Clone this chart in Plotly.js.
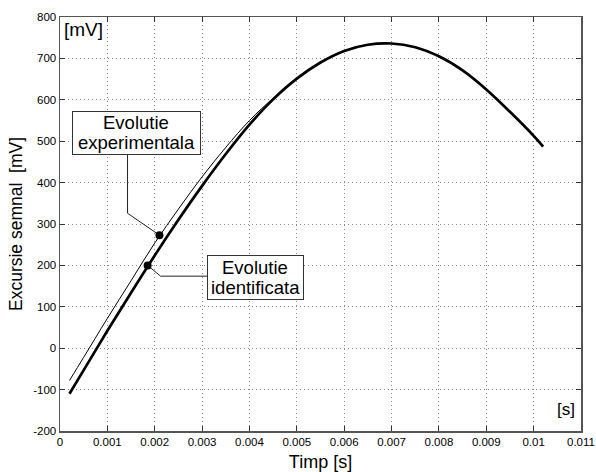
<!DOCTYPE html>
<html>
<head>
<meta charset="utf-8">
<script src="https://cdn.plot.ly/plotly-3.0.1.min.js"></script>
<style>html,body{margin:0;padding:0;background:#fff;}#chart{width:596px;height:472px;}</style>
</head>
<body>
<div id="chart"></div>
<script>
// Time axis (s)
const timp = [0.0002, 0.0005, 0.001, 0.0015, 0.002, 0.0025, 0.003, 0.0035, 0.004, 0.0045, 0.005, 0.0055, 0.006, 0.0065, 0.007, 0.0075, 0.008, 0.0085, 0.009, 0.0095, 0.01, 0.0102];
// Identified evolution (thick line), mV
const identificata = [-110, -53, 42, 134, 224, 310, 392, 469, 540, 601, 651, 690, 718, 733, 736, 727, 705, 671, 625, 571, 513, 487];
// Experimental evolution (thin line), mV
const experimentala = [-78, -22, 72, 163, 254, 336, 414, 485, 550, 604, 652, 690, 718, 733, 736, 727, 705, 671, 626, 572, 515, 490];

// Label anchor points and leader lines
const expMarker = {t: [0.0021], v: [273]};
const idMarker = {t: [0.00185], v: [200]};
const expLeaderT = [0.001426, 0.001426, 0.0021];
const expLeaderV = [468, 326, 273];
const idLeaderT = [0.00311, 0.002123, 0.00185];
const idLeaderV = [174, 174, 200];
const expLabel = ['Evolutie', 'experimentala'];
const idLabel = ['Evolutie', 'identificata'];
const expBox = {t: 0.001608, v: 520};
const idBox = {t: 0.004123, v: 170};

const xTicks = [0, 0.001, 0.002, 0.003, 0.004, 0.005, 0.006, 0.007, 0.008, 0.009, 0.01, 0.011];
const xTickText = ['0', '0.001', '0.002', '0.003', '0.004', '0.005', '0.006', '0.007', '0.008', '0.009', '0.01', '0.011'];
const yTicks = [-200, -100, 0, 100, 200, 300, 400, 500, 600, 700, 800];
const yTickText = ['-200', '-100', '0', '100', '200', '300', '400', '500', '600', '700', '800'];

const FONT = 'Liberation Sans, Arial, Helvetica, sans-serif';

const traces = [
  {x: timp, y: identificata, mode: 'lines', line: {color: '#000', width: 2.7, shape: 'spline', smoothing: 1}, hoverinfo: 'skip'},
  {x: timp, y: experimentala, mode: 'lines', line: {color: '#000', width: 1, shape: 'spline', smoothing: 1}, hoverinfo: 'skip'},
  {x: expLeaderT, y: expLeaderV, mode: 'lines', line: {color: '#222', width: 1}, hoverinfo: 'skip'},
  {x: idLeaderT, y: idLeaderV, mode: 'lines', line: {color: '#222', width: 1}, hoverinfo: 'skip'},
  {x: expMarker.t, y: expMarker.v, mode: 'markers', marker: {color: '#000', size: 8}, hoverinfo: 'skip'},
  {x: idMarker.t, y: idMarker.v, mode: 'markers', marker: {color: '#000', size: 8}, hoverinfo: 'skip'}
];

const axisCommon = {
  showline: true, linecolor: '#555', linewidth: 1.5, mirror: 'ticks',
  ticks: 'inside', ticklen: 5, tickcolor: '#333', tickwidth: 1,
  showgrid: true, gridcolor: '#888', griddash: '1px,3px', gridwidth: 1,
  zeroline: false, ticklabeloverflow: 'allow',
  tickfont: {family: FONT, size: 11.5, color: '#000'}
};

function boxAnn(pos, w, h) {
  return {xref: 'x', yref: 'y', x: pos.t, y: pos.v, text: ' ', showarrow: false,
    bgcolor: '#fff', bordercolor: '#333', borderwidth: 1, borderpad: 0, width: w, height: h,
    font: {family: FONT, size: 10}};
}
function lineAnn(pos, txt, dy) {
  return {xref: 'x', yref: 'y', x: pos.t, y: pos.v, yshift: dy, text: txt, showarrow: false,
    font: {family: FONT, size: 18.5, color: '#000'}, xanchor: 'center', yanchor: 'middle'};
}

const layout = {
  width: 596, height: 472,
  margin: {l: 60, r: 15, t: 17, b: 41},
  paper_bgcolor: '#fff', plot_bgcolor: '#fff',
  showlegend: false,
  font: {family: FONT, color: '#000'},
  xaxis: Object.assign({}, axisCommon, {
    range: [0, 0.011], tickvals: xTicks, ticktext: xTickText,
    title: {text: 'Timp [s]', font: {family: FONT, size: 18, color: '#000'}, standoff: 8}
  }),
  yaxis: Object.assign({}, axisCommon, {
    range: [-200, 800], tickvals: yTicks, ticktext: yTickText,
    title: {text: 'Excursie semnal\u00a0 [mV]', font: {family: FONT, size: 17.5, color: '#000'}, standoff: 6}
  }),
  annotations: [
    boxAnn(expBox, 127, 42),
    lineAnn(expBox, expLabel[0], 10),
    lineAnn(expBox, expLabel[1], -10),
    boxAnn(idBox, 95, 43),
    lineAnn(idBox, idLabel[0], 10),
    lineAnn(idBox, idLabel[1], -10),
    {xref: 'paper', yref: 'paper', x: 0, y: 1, xanchor: 'left', yanchor: 'top', xshift: 2, yshift: 0,
     text: '[mV]', showarrow: false, font: {family: FONT, size: 19, color: '#000'}},
    {xref: 'paper', yref: 'paper', x: 1, y: 0, xanchor: 'right', yanchor: 'bottom', xshift: -4, yshift: 10,
     text: '[s]', showarrow: false, font: {family: FONT, size: 17, color: '#000'}}
  ]
};

Plotly.newPlot('chart', traces, layout, {staticPlot: true, displayModeBar: false});
</script>
</body>
</html>
